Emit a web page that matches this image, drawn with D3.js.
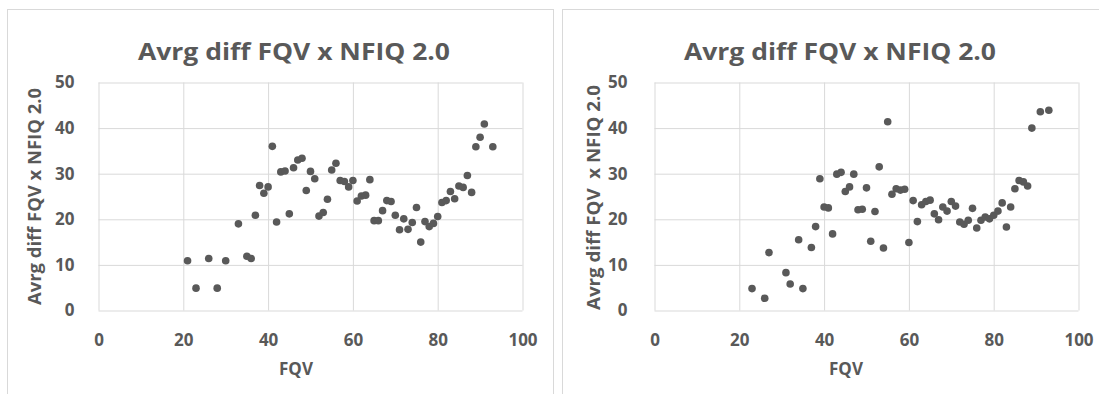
<!DOCTYPE html>
<html>
<head>
<meta charset="utf-8">
<script src="https://cdn.jsdelivr.net/npm/d3@7"></script>
<style>
  html, body { margin: 0; padding: 0; background: #ffffff; }
  svg { display: block; }
  text { font-family: "Open Sans", "Liberation Sans", sans-serif; font-weight: bold; fill: #595959; }
</style>
</head>
<body>
<svg id="chart" width="1099" height="394"></svg>
<script>
// FQV score and average difference FQV x NFIQ 2.0, first panel
const leftFqv = [21, 23, 26, 28, 30, 33, 35, 36, 37, 38, 39, 40, 41, 42, 43, 44, 45, 46, 47, 48,
  49, 50, 51, 52, 53, 54, 55, 56, 57, 58, 59, 60, 61, 62, 63, 64, 65, 66, 67, 68,
  69, 70, 71, 72, 73, 74, 75, 76, 77, 78, 79, 80, 81, 82, 83, 84, 85, 86, 87, 88,
  89, 90, 91, 93];
const leftDiff = [10.9, 4.9, 11.4, 4.9, 10.9, 19.0, 11.9, 11.4, 20.9, 27.4, 25.7, 27.1, 36.0, 19.4, 30.4, 30.6, 21.2, 31.3, 33.0, 33.4,
  26.3, 30.5, 28.9, 20.7, 21.5, 24.4, 30.8, 32.3, 28.5, 28.3, 27.1, 28.5, 24.0, 25.1, 25.3, 28.7, 19.7, 19.7, 21.9, 24.1,
  23.9, 20.9, 17.7, 20.1, 17.8, 19.3, 22.6, 15.0, 19.5, 18.4, 19.1, 20.6, 23.7, 24.1, 26.1, 24.5, 27.3, 27.0, 29.6, 25.9,
  35.9, 38.0, 40.9, 35.9];

// Second panel
const rightFqv = [23, 26, 27, 31, 32, 34, 35, 37, 38, 39, 40, 41, 42, 43, 44, 45, 46, 47, 48, 49,
  50, 51, 52, 53, 54, 55, 56, 57, 58, 59, 60, 61, 62, 63, 64, 65, 66, 67, 68, 69,
  70, 71, 72, 73, 74, 75, 76, 77, 78, 79, 80, 81, 82, 83, 84, 85, 86, 87, 88, 89,
  91, 93];
const rightDiff = [4.8, 2.7, 12.7, 8.3, 5.8, 15.5, 4.8, 13.8, 18.4, 28.9, 22.7, 22.5, 16.8, 29.9, 30.3, 26.1, 27.1, 29.9, 22.1, 22.2,
  26.9, 15.2, 21.7, 31.5, 13.7, 41.4, 25.5, 26.7, 26.4, 26.6, 14.9, 24.1, 19.5, 23.2, 23.9, 24.2, 21.2, 19.9, 22.7, 21.8,
  23.9, 22.9, 19.4, 18.9, 19.8, 22.4, 18.1, 19.8, 20.5, 20.1, 20.9, 21.8, 23.6, 18.3, 22.7, 26.7, 28.5, 28.2, 27.3, 40.0,
  43.6, 43.9];

const xTicks = [0, 20, 40, 60, 80, 100];
const yTicks = [0, 10, 20, 30, 40, 50];
const chartTitle = "Avrg diff FQV x NFIQ 2.0";
const xTitle = "FQV";
const leftYTitle = "Avrg diff FQV x NFIQ 2.0";
const rightYTitle = "Avrg diff FQV  x NFIQ 2.0";

const svg = d3.select("#chart");
const GRID = "#d9d9d9";
const INK = "#595959";

function panel(cfg) {
  const g = svg.append("g");

  // chart frame
  g.append("rect")
    .attr("x", cfg.frame[0] + 0.5).attr("y", cfg.frame[1] + 0.5)
    .attr("width", cfg.frame[2]).attr("height", cfg.frame[3])
    .attr("fill", "#ffffff").attr("stroke", GRID).attr("stroke-width", 1);

  const x = d3.scaleLinear().domain([0, 100]).range([cfg.left, cfg.right]);
  const y = d3.scaleLinear().domain([0, 50]).range([cfg.bottom, cfg.top]);
  const w = cfg.right - cfg.left, h = cfg.bottom - cfg.top;

  const xa = g.append("g")
    .attr("transform", `translate(0,${cfg.bottom})`)
    .call(d3.axisBottom(x).tickValues(xTicks).tickSizeInner(-h).tickSizeOuter(0).tickPadding(23));
  const ya = g.append("g")
    .attr("transform", `translate(${cfg.left},0)`)
    .call(d3.axisLeft(y).tickValues(yTicks).tickSizeInner(-w).tickSizeOuter(0).tickPadding(cfg.yPad));

  [xa, ya].forEach(a => {
    a.select(".domain").remove();
    a.selectAll(".tick line").attr("stroke", GRID).attr("stroke-width", 1);
    a.selectAll(".tick text").attr("fill", INK).style("font-size", "17px");
  });

  g.append("g").selectAll("circle")
    .data(cfg.xs.map((v, i) => [v, cfg.ys[i]]))
    .join("circle")
    .attr("cx", d => x(d[0]))
    .attr("cy", d => y(d[1]))
    .attr("r", 3.8)
    .attr("fill", INK);

  g.append("text")
    .attr("x", cfg.titleX).attr("y", 60)
    .attr("text-anchor", "middle")
    .style("font-size", "24px")
    .attr("textLength", 312).attr("lengthAdjust", "spacingAndGlyphs")
    .text(chartTitle);

  g.append("text")
    .attr("x", cfg.xTitleX).attr("y", 375)
    .attr("text-anchor", "middle")
    .style("font-size", "17px")
    .text(xTitle);

  g.append("text")
    .attr("transform", `translate(${cfg.yTitleX},${cfg.yTitleY}) rotate(-90)`)
    .attr("text-anchor", "middle")
    .style("font-size", "17px")
    .style("white-space", "pre")
    .attr("textLength", cfg.yTitleLen).attr("lengthAdjust", "spacingAndGlyphs")
    .text(cfg.yTitle);
}

panel({
  frame: [7, 9, 546, 420],
  left: 98.5, right: 522.5, top: 82.5, bottom: 310.5, yPad: 24,
  xs: leftFqv, ys: leftDiff,
  titleX: 294, xTitleX: 296,
  yTitle: leftYTitle, yTitleX: 41, yTitleY: 196.5, yTitleLen: 217
});

panel({
  frame: [562, 9, 560, 420],
  left: 654.5, right: 1078.5, top: 82.5, bottom: 310.5, yPad: 27,
  xs: rightFqv, ys: rightDiff,
  titleX: 840, xTitleX: 846,
  yTitle: rightYTitle, yTitleX: 600, yTitleY: 197.5, yTitleLen: 225
});
</script>
</body>
</html>
